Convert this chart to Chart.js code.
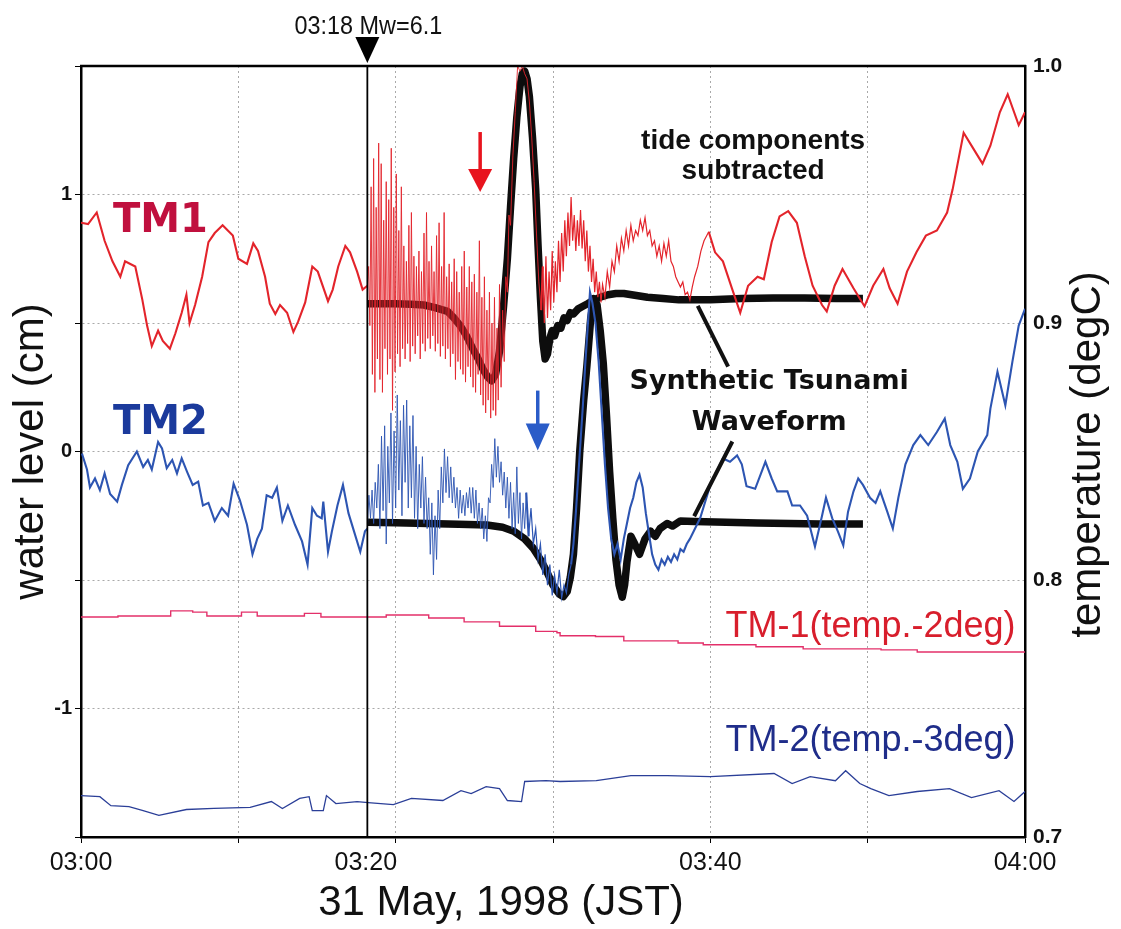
<!DOCTYPE html>
<html>
<head>
<meta charset="utf-8">
<title>TM1 / TM2 water level, 31 May 1998</title>
<script src="https://cdn.jsdelivr.net/npm/chart.js@4.4.1/dist/chart.umd.min.js"></script>
<style>
  html, body { margin: 0; padding: 0; background: #fff; }
  #wrap { width: 1121px; height: 929px; }
</style>
</head>
<body>
<div id="wrap"><canvas id="chart" width="1121" height="929"></canvas></div>
<script>
// time axis: minutes after 03:00 JST; water level in cm (tide components subtracted)

// TM1 water level
const tm1Before = [
  [0,0.89],[0.45,0.885],[1.0,0.93],[1.5,0.82],[2.0,0.74],[2.5,0.68],[2.8,0.74],[3.45,0.72],[3.9,0.59],
  [4.2,0.49],[4.5,0.41],[4.9,0.47],[5.2,0.43],[5.65,0.40],[6.0,0.46],[6.4,0.54],[6.7,0.61],[6.9,0.50],
  [7.25,0.57],[7.7,0.68],[8.1,0.815],[8.5,0.85],[9.0,0.88],[9.65,0.84],[10.0,0.75],[10.55,0.73],
  [10.95,0.81],[11.25,0.78],[11.7,0.68],[12.0,0.575],[12.35,0.535],[12.65,0.57],[13.1,0.54],[13.5,0.465],
  [13.8,0.505],[14.25,0.58],[14.7,0.72],[15.05,0.70],[15.7,0.585],[16.0,0.63],[16.35,0.72],[16.8,0.80],
  [17.1,0.775],[17.55,0.70],[17.9,0.63],[18.2,0.645]
];
// seismic oscillation right after the shock, one sample every 0.08 min from 18.28
const tm1BurstStart = 18.28;
const tm1BurstStep = 0.08;
const tm1Burst = [
  0.72,0.49,1.03,0.30,1.14,0.23,0.95,0.36,1.20,0.28,
  1.12,0.23,0.90,0.40,1.05,0.30,0.98,0.36,1.18,0.16,
  0.95,0.31,1.08,0.38,0.86,0.33,1.03,0.40,0.80,0.36,
  0.74,0.42,0.88,0.35,0.93,0.41,0.76,0.38,0.72,0.45,
  0.78,0.36,0.70,0.42,0.85,0.39,0.93,0.44,0.74,0.40,
  0.80,0.45,0.70,0.39,0.84,0.42,0.89,0.37,0.72,0.41,
  0.93,0.36,0.68,0.40,0.73,0.33,0.66,0.38,0.75,0.28,
  0.70,0.35,0.62,0.32,0.72,0.30,0.78,0.27,0.64,0.33,
  0.72,0.29,0.66,0.25,0.69,0.23,0.62,0.30,0.82,0.22,
  0.60,0.18,0.68,0.15,0.55,0.20,0.62,0.13,0.50,0.16,
  0.60,0.14,0.48,0.20,0.65
];
const tm1After = [
  [26.7,0.25],[26.8,0.55],[26.9,0.35],[27.0,0.68],[27.1,0.62],[27.2,0.92],[27.3,0.88],[27.45,1.15],
  [27.6,1.32],[27.75,1.5],[27.9,1.48],[28.05,1.5],[28.2,1.47],[28.35,1.45],[28.5,1.36],[28.65,1.22],
  [28.8,1.05],[28.95,0.85],[29.1,0.66],[29.25,0.55],
  [29.35,0.72],[29.45,0.50],[29.55,0.76],[29.65,0.52],[29.75,0.70],[29.85,0.55],[29.95,0.78],[30.05,0.58],
  [30.15,0.74],[30.25,0.62],[30.35,0.82],[30.45,0.66],[30.55,0.85],[30.65,0.70],[30.75,0.90],[30.85,0.76],
  [30.95,0.93],[31.05,0.80],[31.15,0.99],[31.25,0.82],[31.35,0.92],[31.45,0.78],[31.55,0.90],[31.65,0.80],
  [31.75,0.94],[31.85,0.79],[31.95,0.90],[32.05,0.74],[32.15,0.86],[32.25,0.70],[32.35,0.80],[32.45,0.66],
  [32.55,0.75],[32.65,0.62],[32.75,0.70],[32.85,0.60],[32.95,0.66],[33.05,0.58],[33.15,0.65],[33.3,0.60],
  [33.45,0.70],[33.6,0.64],[33.75,0.74],[33.9,0.70],[34.05,0.80],[34.2,0.74],[34.35,0.83],[34.5,0.78],
  [34.65,0.86],[34.8,0.80],[34.95,0.88],[35.1,0.82],[35.25,0.86],[35.4,0.84],[35.55,0.90],[35.7,0.86],
  [35.85,0.91],[36.0,0.84],[36.15,0.86],[36.3,0.80],[36.45,0.82],[36.6,0.76],[36.75,0.80],[36.9,0.74],
  [37.05,0.81],[37.2,0.76],[37.35,0.82],[37.5,0.74],[37.65,0.72],[37.8,0.68],[37.95,0.66],[38.1,0.64],
  [38.25,0.66],[38.4,0.61],[38.55,0.62],[38.7,0.59],[38.85,0.64],[39.0,0.68],[39.2,0.72],[39.4,0.78],
  [39.6,0.82],[39.9,0.855],
  [40.3,0.775],[40.8,0.74],[41.4,0.63],[41.9,0.54],[42.4,0.645],[43.0,0.68],[43.4,0.67],[43.9,0.815],
  [44.4,0.915],[44.95,0.935],[45.5,0.89],[46.0,0.76],[46.5,0.645],[47.1,0.57],[47.4,0.545],[47.9,0.645],
  [48.4,0.71],[49.1,0.635],[49.8,0.565],[50.35,0.645],[51.0,0.71],[51.4,0.635],[51.9,0.575],[52.5,0.70],
  [53.1,0.775],[53.7,0.84],[54.4,0.86],[55.05,0.93],[55.4,1.02],[56.1,1.24],[56.6,1.19],[57.3,1.12],
  [57.8,1.19],[58.4,1.32],[58.9,1.39],[59.6,1.27],[60,1.32]
];

// TM2 water level
const tm2Before = [
  [0.06,-0.008],[0.38,-0.07],[0.57,-0.14],[0.89,-0.105],[1.2,-0.15],[1.5,-0.085],[1.85,-0.165],[2.3,-0.195],
  [2.6,-0.13],[3.0,-0.053],[3.55,0.0],[3.95,-0.06],[4.25,-0.033],[4.5,-0.07],[4.9,0.037],[5.15,0.012],
  [5.45,-0.065],[5.8,-0.033],[6.1,-0.085],[6.4,-0.027],[6.75,-0.08],[7.1,-0.13],[7.45,-0.117],[7.75,-0.21],
  [8.1,-0.2],[8.5,-0.27],[8.95,-0.22],[9.35,-0.25],[9.7,-0.125],[10.1,-0.19],[10.55,-0.285],[10.9,-0.40],
  [11.2,-0.34],[11.5,-0.30],[11.8,-0.17],[12.15,-0.18],[12.45,-0.14],[12.8,-0.27],[13.15,-0.21],[13.6,-0.285],
  [14.05,-0.35],[14.4,-0.44],[14.7,-0.22],[15.0,-0.25],[15.3,-0.26],[15.4,-0.195],[15.7,-0.39],[15.95,-0.31],
  [16.3,-0.21],[16.65,-0.13],[17.0,-0.24],[17.3,-0.30],[17.75,-0.39],[18.05,-0.31],[18.2,-0.30]
];
// one sample every 0.1 min from 18.3
const tm2BurstStart = 18.3;
const tm2BurstStep = 0.1;
const tm2Burst = [
  -0.17,-0.26,-0.15,-0.28,-0.12,-0.22,-0.05,-0.30,0.06,-0.23,
  0.10,-0.36,0.02,-0.20,0.15,-0.28,0.08,-0.22,0.22,-0.15,
  0.12,-0.25,0.18,-0.12,0.20,-0.22,0.10,-0.18,0.14,-0.26,
  0.02,-0.30,-0.05,-0.22,-0.02,-0.28,-0.10,-0.30,-0.18,-0.40,
  -0.20,-0.48,-0.25,-0.42,-0.15,-0.30,-0.06,-0.20,0.01,-0.16,
  -0.02,-0.18,-0.06,-0.20,-0.10,-0.22,-0.14,-0.26,-0.15,-0.24,
  -0.17,-0.25,-0.16,-0.22,-0.14,-0.24,-0.14,-0.26,-0.15,-0.28,
  -0.20,-0.30,-0.22,-0.34,-0.25,-0.35,-0.18,-0.20,-0.05,-0.14,
  0.05,-0.10,0.02,-0.12,-0.04,-0.17,-0.08,-0.22,-0.10,-0.26,
  -0.12,-0.30,-0.16,-0.32,-0.06,-0.28,-0.16,-0.34,-0.20,-0.30,
  -0.16
];
const tm2After = [
  [28.45,-0.33],[28.6,-0.22],[28.75,-0.36],[28.9,-0.30],[29.05,-0.42],[29.2,-0.36],[29.35,-0.48],[29.5,-0.40],
  [29.65,-0.52],[29.8,-0.44],[29.95,-0.56],[30.1,-0.48],[30.25,-0.55],[30.4,-0.46],[30.55,-0.57],[30.7,-0.52],
  [30.85,-0.55],[31.0,-0.48],[31.15,-0.44],[31.3,-0.36],[31.45,-0.24],[31.6,-0.10],[31.75,0.04],[31.9,0.18],
  [32.05,0.34],[32.2,0.48],[32.35,0.62],[32.5,0.58],[32.7,0.50],[32.9,0.35],[33.1,0.15],[33.3,-0.05],
  [33.5,-0.22],[33.7,-0.34],[33.9,-0.40],[34.1,-0.36],[34.3,-0.42],[34.5,-0.34],[34.7,-0.28],[34.9,-0.22],
  [35.1,-0.18],[35.3,-0.12],[35.5,-0.09],[35.7,-0.14],[35.9,-0.24],[36.1,-0.32],[36.3,-0.40],[36.5,-0.44],
  [36.7,-0.46],[36.9,-0.42],[37.1,-0.44],[37.3,-0.41],[37.5,-0.43],[37.7,-0.40],[37.9,-0.42],[38.1,-0.38],
  [38.3,-0.39],[38.5,-0.36],[38.7,-0.34],
  [39.35,-0.26],[40.0,-0.13],[40.5,-0.066],[40.8,-0.027],[41.25,-0.04],[41.7,-0.015],[42.0,-0.05],[42.3,-0.135],
  [42.85,-0.145],[43.5,-0.04],[43.9,-0.105],[44.25,-0.155],[44.9,-0.155],[45.2,-0.21],[45.7,-0.21],[46.15,-0.25],
  [46.65,-0.37],[47.1,-0.25],[47.35,-0.18],[47.75,-0.26],[48.1,-0.31],[48.45,-0.365],[48.75,-0.235],[49.1,-0.155],
  [49.4,-0.105],[49.7,-0.13],[50.15,-0.18],[50.5,-0.20],[50.8,-0.155],[51.25,-0.235],[51.6,-0.30],[51.95,-0.18],
  [52.4,-0.05],[52.9,0.025],[53.35,0.064],[53.85,0.025],[54.4,0.076],[54.9,0.128],[55.25,0.025],[55.7,-0.04],
  [56.05,-0.145],[56.5,-0.105],[57.0,0.0],[57.6,0.064],[57.8,0.167],[58.25,0.31],[58.75,0.18],[59.2,0.35],
  [59.6,0.49],[60,0.555]
];

// synthetic tsunami waveforms (cm)
const tm1Synthetic = [
  [18.2,0.575],[19,0.575],[20,0.575],[21,0.573],[21.8,0.57],[22.5,0.56],[23.3,0.545],[23.7,0.52],[24.1,0.49],
  [24.5,0.45],[24.9,0.40],[25.25,0.36],[25.55,0.32],[25.85,0.29],[26.1,0.275],[26.35,0.30],[26.6,0.39],
  [26.85,0.56],[27.1,0.75],[27.3,0.95],[27.5,1.14],[27.7,1.30],[27.9,1.42],[28.05,1.47],[28.2,1.48],
  [28.35,1.45],[28.5,1.38],[28.7,1.22],[28.9,1.02],[29.05,0.80],[29.2,0.60],[29.35,0.43],[29.5,0.36],
  [29.65,0.38],[29.8,0.44],[29.95,0.47],[30.1,0.45],[30.3,0.49],[30.5,0.48],[30.7,0.52],[30.9,0.51],
  [31.1,0.54],[31.3,0.535],[31.6,0.555],[31.9,0.565],[32.2,0.575],[32.6,0.59],[33.0,0.60],[33.5,0.61],
  [34.0,0.615],[34.5,0.615],[35.0,0.61],[36,0.60],[37,0.595],[38,0.59],[40,0.59],[42,0.595],[44,0.597],
  [46,0.597],[48,0.595],[49.7,0.595]
];
const tm2Synthetic = [
  [18.2,-0.275],[20,-0.277],[22,-0.28],[24,-0.283],[25.8,-0.286],[26.8,-0.295],[27.5,-0.31],[28.2,-0.34],
  [28.75,-0.377],[29.2,-0.42],[29.6,-0.467],[30.0,-0.52],[30.4,-0.555],[30.65,-0.565],[30.9,-0.545],
  [31.1,-0.49],[31.3,-0.40],[31.5,-0.22],[31.7,0.0],[31.95,0.20],[32.15,0.33],[32.4,0.52],[32.6,0.595],
  [32.8,0.57],[33.0,0.47],[33.2,0.34],[33.4,0.14],[33.6,-0.08],[33.8,-0.26],[34.0,-0.42],[34.2,-0.52],
  [34.4,-0.567],[34.55,-0.52],[34.7,-0.43],[34.95,-0.33],[35.2,-0.36],[35.5,-0.40],[35.85,-0.34],
  [36.2,-0.31],[36.5,-0.33],[36.8,-0.30],[37.25,-0.28],[37.6,-0.29],[38.1,-0.27],[39,-0.272],[41,-0.275],
  [43,-0.278],[45,-0.28],[47,-0.282],[49.7,-0.282]
];

// water temperature (degC, right axis), offsets as labelled
const tm1Temp = [
  [0,0.7856],[2.35,0.786],[3.95,0.786],[5.7,0.788],[7.1,0.7875],[8.0,0.786],[9.85,0.786],[10.2,0.7875],
  [11.2,0.786],[14.2,0.787],[15.25,0.7856],[18.25,0.7856],[19.4,0.7864],[22.1,0.7852],[24.35,0.7837],
  [26.6,0.782],[28.9,0.780],[30.25,0.7795],[30.45,0.7783],[32.7,0.778],[34.5,0.7763],[37.95,0.7755],
  [39.55,0.7748],[42.9,0.774],[45.9,0.7732],[50.85,0.7728],[53.15,0.772],[60,0.772]
];
const tm2Temp = [
  [0,0.7161],[1.2,0.7157],[1.9,0.7122],[3.05,0.7118],[3.95,0.7103],[4.95,0.7084],[6.7,0.7107],[8.45,0.7111],
  [10.75,0.7115],[12.1,0.7138],[12.8,0.7111],[13.9,0.715],[14.5,0.7157],[14.7,0.7103],[15.4,0.7103],
  [15.6,0.7161],[16.2,0.713],[17.55,0.7138],[18.25,0.7134],[19.85,0.7126],[21.0,0.715],[23.0,0.7142],
  [24.15,0.718],[24.8,0.7169],[25.75,0.7196],[26.6,0.7188],[27.1,0.7142],[28.0,0.7138],[28.2,0.7216],
  [29.55,0.7219],[30.45,0.7216],[32.75,0.7219],[34.95,0.7239],[37.25,0.7239],[40.0,0.7235],[44.05,0.7247],
  [45.2,0.7208],[46.35,0.7235],[47.95,0.7219],[48.6,0.7258],[49.5,0.7208],[50.2,0.7188],[51.35,0.7161],
  [53.15,0.7177],[55.2,0.7188],[56.6,0.7153],[58.35,0.718],[59.3,0.7138],[60,0.7177]
];

// time labels under the axis
const xLabelMinutes = [0, 18.1, 40, 60];
const xLabelText = ['03:00', '03:20', '03:40', '04:00'];

// earthquake origin time
const eventMinute = 18.2;
const eventLabel = '03:18 Mw=6.1';

const sampled = (start, step, values) => values.map((v, i) => [start + i * step, v]);
const toPoints = pairs => pairs.map(([x, y]) => ({ x, y }));

const tm1Points = toPoints([...tm1Before, ...sampled(tm1BurstStart, tm1BurstStep, tm1Burst), ...tm1After]);
const tm2Points = toPoints([...tm2Before, ...sampled(tm2BurstStart, tm2BurstStep, tm2Burst), ...tm2After]);

// pen width by stretch of record: thin while shaking, medium in the ringing that follows
const penWidth = (burstEnd, ringEnd) => c => {
  const t0 = c.p0.parsed.x, t1 = c.p1.parsed.x;
  if (t0 >= 18.2 && t1 <= burstEnd) return 0.9;
  if (t0 >= burstEnd && t1 <= ringEnd) return 1.2;
  return 2.1;
};

Chart.defaults.font.family = '"Liberation Sans", Arial, sans-serif';
Chart.defaults.color = '#111';

function drawText(ctx, str, x, y, font, color, align, sx) {
  ctx.save();
  ctx.translate(x, y);
  ctx.scale(sx || 1, 1);
  ctx.font = font;
  ctx.fillStyle = color;
  ctx.textAlign = align;
  ctx.textBaseline = 'alphabetic';
  ctx.fillText(str, 0, 0);
  ctx.restore();
}

function downArrow(ctx, x, yTail, yTip, color, headLen) {
  ctx.save();
  ctx.strokeStyle = color;
  ctx.fillStyle = color;
  ctx.lineWidth = 3.5;
  ctx.beginPath();
  ctx.moveTo(x, yTail);
  ctx.lineTo(x, yTip - headLen + 2);
  ctx.stroke();
  ctx.beginPath();
  ctx.moveTo(x - 12, yTip - headLen);
  ctx.lineTo(x + 12, yTip - headLen);
  ctx.lineTo(x, yTip);
  ctx.closePath();
  ctx.fill();
  ctx.restore();
}

const annotations = {
  id: 'annotations',
  afterDatasetsDraw(chart) {
    const { ctx, chartArea: a, scales } = chart;
    const X = t => scales.x.getPixelForValue(t);
    const Y = v => scales.y.getPixelForValue(v);

    // top frame
    ctx.save();
    ctx.strokeStyle = '#000';
    ctx.lineWidth = 2.5;
    ctx.beginPath();
    ctx.moveTo(a.left - 1, a.top);
    ctx.lineTo(a.right + 1, a.top);
    ctx.stroke();

    // origin time marker
    const ex = X(eventMinute);
    ctx.lineWidth = 1.8;
    ctx.beginPath();
    ctx.moveTo(ex, a.top);
    ctx.lineTo(ex, a.bottom);
    ctx.stroke();
    ctx.fillStyle = '#000';
    ctx.beginPath();
    ctx.moveTo(ex - 12, a.top - 29);
    ctx.lineTo(ex + 12, a.top - 29);
    ctx.lineTo(ex, a.top - 3);
    ctx.closePath();
    ctx.fill();
    ctx.restore();
    drawText(ctx, eventLabel, ex + 1, a.top - 32, '26px "Liberation Sans", Arial, sans-serif', '#111', 'center', 0.9);

    // series tags
    const tagFont = 'bold 40px "DejaVu Sans", sans-serif';
    drawText(ctx, 'TM1', X(2.03), Y(0.854), tagFont, '#c0103e', 'left');
    drawText(ctx, 'TM2', X(2.03), Y(0.07), tagFont, '#1b3a9c', 'left');

    // tsunami arrival arrows
    downArrow(ctx, X(25.37), Y(1.243), Y(1.01), '#e8141e', 23);
    downArrow(ctx, X(29.03), Y(0.237), Y(0.004), '#2a5cc8', 27);

    // notes
    const noteFont = 'bold 28px "Liberation Sans", Arial, sans-serif';
    drawText(ctx, 'tide components', X(42.72), Y(1.177), noteFont, '#111', 'center');
    drawText(ctx, 'subtracted', X(42.72), Y(1.06), noteFont, '#111', 'center');
    const synFont = 'bold 27px "DejaVu Sans", sans-serif';
    drawText(ctx, 'Synthetic Tsunami', X(43.74), Y(0.245), synFont, '#111', 'center');
    drawText(ctx, 'Waveform', X(43.74), Y(0.082), synFont, '#111', 'center');

    // leaders to the synthetic curves
    ctx.save();
    ctx.strokeStyle = '#111';
    ctx.lineWidth = 4;
    ctx.beginPath();
    ctx.moveTo(X(39.2), Y(0.567));
    ctx.lineTo(X(41.13), Y(0.33));
    ctx.moveTo(X(41.4), Y(0.039));
    ctx.lineTo(X(38.97), Y(-0.252));
    ctx.stroke();
    ctx.restore();

    // temperature trace labels
    const tempFont = '36px "Liberation Sans", Arial, sans-serif';
    drawText(ctx, 'TM-1(temp.-2deg)', X(59.4), Y(-0.722), tempFont, '#d81e2c', 'right');
    drawText(ctx, 'TM-2(temp.-3deg)', X(59.4), Y(-1.165), tempFont, '#1f2d8a', 'right');

    // axis titles not handled by the scales
    ctx.save();
    ctx.translate(chart.width - 33, (a.top + a.bottom) / 2 + 3);
    ctx.rotate(-Math.PI / 2);
    ctx.font = '42px "Liberation Sans", Arial, sans-serif';
    ctx.fillStyle = '#111';
    ctx.textAlign = 'center';
    ctx.textBaseline = 'middle';
    ctx.fillText('temperature (degC)', 0, 0);
    ctx.restore();
    drawText(ctx, '31 May, 1998 (JST)', 501, 915, '42px "Liberation Sans", Arial, sans-serif', '#111', 'center');
  }
};

const gridLook = { color: '#a9a9a9', tickColor: '#000', tickLength: 6, lineWidth: 1 };
const frameLook = { color: '#000', width: 2.5, dash: [2, 3] };

new Chart(document.getElementById('chart'), {
  type: 'line',
  data: {
    datasets: [
      {
        label: 'TM1', data: tm1Points, xAxisID: 'x', yAxisID: 'y', order: 0,
        borderColor: '#e3242b', borderWidth: 2.1,
        segment: { borderWidth: penWidth(29.3, 39.95) }
      },
      {
        label: 'TM2', data: tm2Points, xAxisID: 'x', yAxisID: 'y', order: 0,
        borderColor: '#2d55b2', borderWidth: 2.1,
        segment: { borderWidth: penWidth(28.4, 31.2) }
      },
      {
        label: 'TM-1 temp', data: toPoints(tm1Temp), xAxisID: 'x', yAxisID: 'yT', order: 0,
        borderColor: '#e3306a', borderWidth: 1.4, stepped: true
      },
      {
        label: 'TM-2 temp', data: toPoints(tm2Temp), xAxisID: 'x', yAxisID: 'yT', order: 0,
        borderColor: '#2b3f98', borderWidth: 1.3
      },
      {
        label: 'TM1 synthetic', data: toPoints(tm1Synthetic), xAxisID: 'x', yAxisID: 'y', order: 1,
        borderColor: '#0d0d0d', borderWidth: 7.5, borderJoinStyle: 'round', borderCapStyle: 'butt'
      },
      {
        label: 'TM2 synthetic', data: toPoints(tm2Synthetic), xAxisID: 'x', yAxisID: 'y', order: 1,
        borderColor: '#0d0d0d', borderWidth: 7.5, borderJoinStyle: 'round', borderCapStyle: 'butt'
      }
    ]
  },
  options: {
    responsive: false,
    animation: false,
    devicePixelRatio: 1,
    layout: { padding: { top: 66, left: 0, right: 0, bottom: 0 } },
    elements: { point: { radius: 0 }, line: { tension: 0 } },
    plugins: { legend: { display: false }, tooltip: { enabled: false } },
    scales: {
      x: {
        type: 'linear', position: 'bottom', min: 0, max: 60,
        ticks: { display: false, stepSize: 10 },
        grid: gridLook,
        border: frameLook,
        afterFit: s => { s.height = 8; }
      },
      xLabels: {
        type: 'linear', position: 'bottom', weight: 1, min: 0, max: 60,
        afterBuildTicks: s => { s.ticks = xLabelMinutes.map(value => ({ value })); },
        ticks: {
          autoSkip: false, maxRotation: 0, padding: 3,
          font: { size: 25 }, color: '#111',
          callback: (v, i) => xLabelText[i]
        },
        grid: { display: false, drawTicks: false },
        border: { display: false },
        afterFit: s => { s.height = 84; }
      },
      y: {
        type: 'linear', position: 'left', min: -1.5, max: 1.5,
        ticks: {
          stepSize: 0.5, padding: 3,
          font: { size: 20, weight: 'bold' }, color: '#111',
          callback: v => Number.isInteger(v) ? String(v) : ''
        },
        grid: gridLook,
        border: frameLook,
        title: {
          display: true, text: 'water level (cm)', color: '#111',
          font: { size: 42 }, padding: { top: 6, bottom: 0 }
        },
        afterFit: s => { s.width = 81; }
      },
      yT: {
        type: 'linear', position: 'right', min: 0.7, max: 1.0,
        ticks: {
          stepSize: 0.1, padding: 8,
          font: { size: 21, weight: 'bold' }, color: '#111',
          callback: v => v.toFixed(1)
        },
        grid: { display: false, drawTicks: false },
        border: { color: '#000', width: 2.5 },
        afterFit: s => { s.width = 96; }
      }
    }
  },
  plugins: [annotations]
});
</script>
</body>
</html>
